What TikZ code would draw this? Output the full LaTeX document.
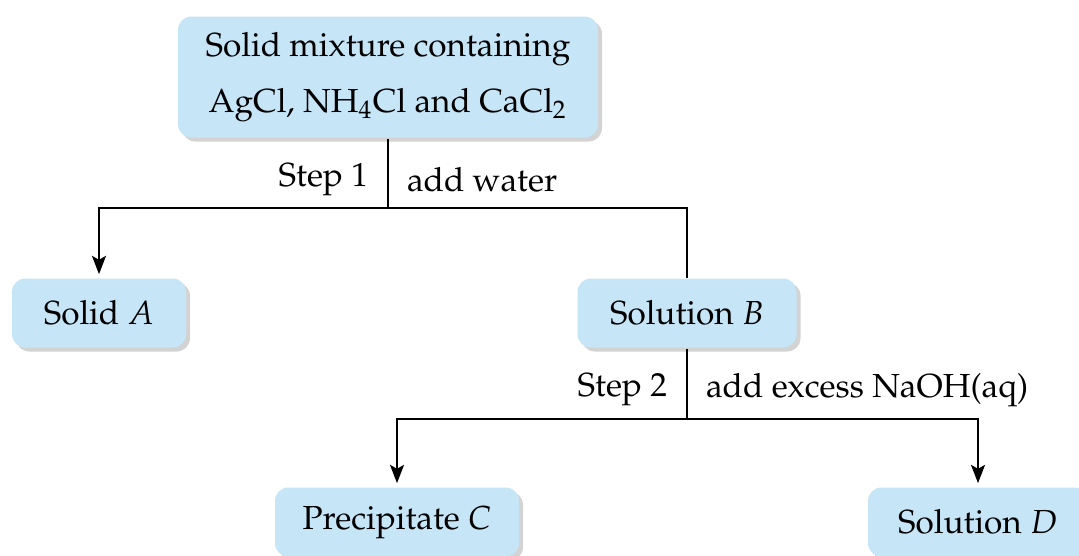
\documentclass[tikz,border=0pt]{standalone}
\usepackage[T1]{fontenc}
\usepackage{mathpazo}
\usetikzlibrary{shadows,arrows.meta}
\definecolor{boxblue}{HTML}{C6E5F7}
\begin{document}
\begin{tikzpicture}[x=0.3pt,y=-0.3pt,line width=0.6pt,>={Stealth[length=5.5pt,width=4.2pt,inset=1.2pt]},font=\fontsize{10}{15.5}\selectfont,
 box/.style={fill=boxblue,rounded corners=4pt,drop shadow={opacity=0.35,shadow xshift=1.2pt,shadow yshift=-1.2pt},align=center,inner sep=0,minimum height=20.7pt},
 lbl/.style={inner sep=0}]
\useasboundingbox (0,0) rectangle (1079,555);
\node[box,minimum width=126pt,minimum height=36.3pt](mix)at(388,77){Solid mixture containing\\[1.5pt]AgCl, NH$_4$Cl and CaCl$_2$};
\node[box,minimum width=52.2pt](A)at(99,313){Solid $A$};
\node[box,minimum width=65.7pt](B)at(687,313){Solution $B$};
\node[box,minimum width=73.2pt](C)at(397,522){Precipitate $C$};
\node[box,minimum width=66pt](D)at(978,522){Solution $D$};
\coordinate(s1)at(388,208);\coordinate(s2)at(687,419);
\draw(mix)--(s1);\draw[->,shorten >=1pt](s1)-|(A);\draw(s1)-|(B);
\draw(B)--(s2);\draw[->,shorten >=1pt](s2)-|(C);\draw[->,shorten >=1pt](s2)-|(D);
\node[lbl,anchor=east](t1)at(369,180){Step 1};\node[lbl,anchor=west](w1)at(406,180){add water};
\node[lbl,anchor=east](t2)at(668,390){Step 2};\node[lbl,anchor=west](w2)at(705,390){add excess NaOH(aq)};
\end{tikzpicture}
\end{document}
